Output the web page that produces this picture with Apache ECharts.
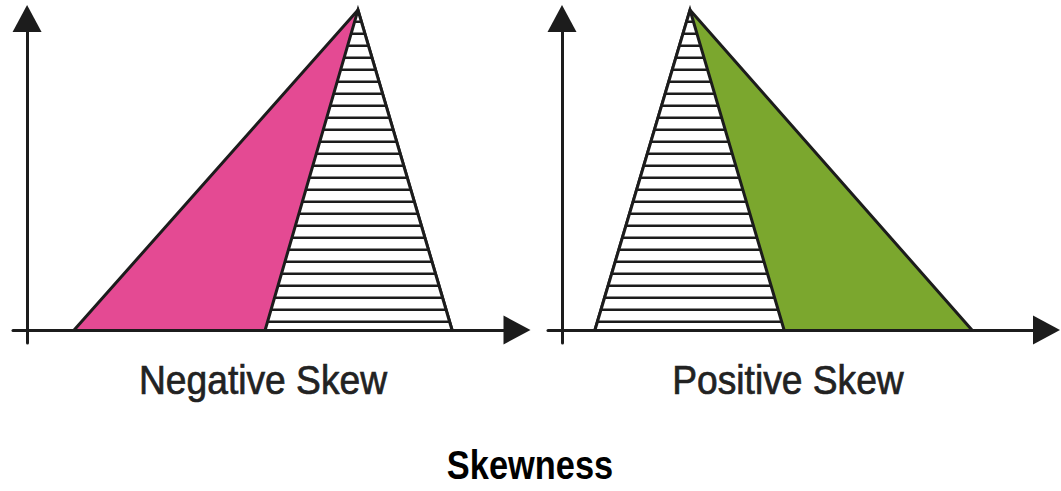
<!DOCTYPE html>
<html><head><meta charset="utf-8">
<script src="https://cdn.jsdelivr.net/npm/echarts@6/dist/echarts.min.js"></script>
<style>html,body{margin:0;padding:0;background:#fff}#c{width:1061px;height:491px}</style>
</head><body><div id="c"></div>
<script>
// ---- Data (units: axis origin = 0, peak height = 100) ----
const negOuterX = [14.7, 103.4, 132.8];   // whole distribution, negative skew
const negOuterY = [0, 100, 0];
const negHatchX = [74.4, 103.4, 132.8];   // hatched part, negative skew
const negHatchY = [0, 100, 0];
const posHatchX = [10.3, 40.0, 69.4];     // hatched part, positive skew
const posHatchY = [0, 100, 0];
const posOuterX = [10.3, 40.0, 128.1];    // whole distribution, positive skew
const posOuterY = [0, 100, 0];
const panelLabels = ['Negative Skew', 'Positive Skew'];
const chartTitle = 'Skewness';

const INK = '#1c1c1c';
const PINK = '#e44a93';
const GREEN = '#7ba72e';

function pairs(xs, ys) { return xs.map((x, i) => [x, ys[i]]); }

// horizontal hatch pattern
const pc = document.createElement('canvas');
pc.width = 4; pc.height = 12;
const g = pc.getContext('2d');
g.fillStyle = '#ffffff'; g.fillRect(0, 0, 4, 12);
g.fillStyle = INK; g.fillRect(0, 9, 4, 2);
g.globalAlpha = 0.5; g.fillRect(0, 8, 4, 1);
const hatch = { image: pc, repeat: 'repeat', imageWidth: 4, imageHeight: 12 };

const chart = echarts.init(document.getElementById('c'), null, { renderer: 'svg' });

function axisLine() {
  return { show: true, onZero: true, symbol: ['none', 'triangle'], symbolSize: [29, 27],
           lineStyle: { color: INK, width: 3 } };
}
const hidden = { axisTick: { show: false }, axisLabel: { show: false }, splitLine: { show: false } };

function tri(name, xs, ys, fill, gi, z) {
  return {
    name, type: 'line', xAxisIndex: gi, yAxisIndex: gi, data: pairs(xs, ys),
    symbol: 'none', showSymbol: false, clip: false, z,
    lineStyle: { color: INK, width: 3, join: 'miter', miterLimit: 20 },
    areaStyle: { color: fill, opacity: 1 },
    emphasis: { disabled: true }
  };
}

const labelFont = '40px "Liberation Sans", Arial, sans-serif';
chart.setOption({
  animation: false,
  backgroundColor: '#ffffff',
  grid: [
    { left: 13, top: 18.5, width: 504, height: 324.5 },
    { left: 548, top: 18.5, width: 498.5, height: 324.5 }
  ],
  xAxis: [
    Object.assign({ type: 'value', gridIndex: 0, min: -4.4, max: 153.1, axisLine: axisLine(), z: 10 }, hidden),
    Object.assign({ type: 'value', gridIndex: 1, min: -4.375, max: 151.4, axisLine: axisLine(), z: 10 }, hidden)
  ],
  yAxis: [
    Object.assign({ type: 'value', gridIndex: 0, min: -4.0625, max: 97.34, axisLine: axisLine(), z: 10 }, hidden),
    Object.assign({ type: 'value', gridIndex: 1, min: -4.0625, max: 97.34, axisLine: axisLine(), z: 10 }, hidden)
  ],
  series: [
    tri('Negative skew', negOuterX, negOuterY, PINK, 0, 2),
    tri('Negative skew (hatched)', negHatchX, negHatchY, hatch, 0, 3),
    tri('Positive skew', posOuterX, posOuterY, GREEN, 1, 2),
    tri('Positive skew (hatched)', posHatchX, posHatchY, hatch, 1, 3)
  ],
  graphic: [
    { type: 'text', x: 263, y: 380, scaleX: 0.93, silent: true,
      style: { text: panelLabels[0], fill: '#222222', stroke: '#222222', lineWidth: 0.7, font: labelFont, textAlign: 'center', textVerticalAlign: 'middle' } },
    { type: 'text', x: 788, y: 380, scaleX: 0.93, silent: true,
      style: { text: panelLabels[1], fill: '#222222', stroke: '#222222', lineWidth: 0.7, font: labelFont, textAlign: 'center', textVerticalAlign: 'middle' } },
    { type: 'text', x: 530, y: 465, scaleX: 0.86, silent: true,
      style: { text: chartTitle, fill: '#000000', font: 'bold 40px "Liberation Sans", Arial, sans-serif', textAlign: 'center', textVerticalAlign: 'middle' } }
  ]
});
</script>
</body></html>
